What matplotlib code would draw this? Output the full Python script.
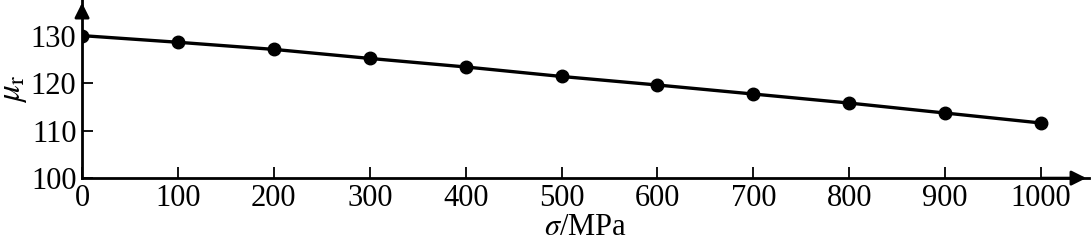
import numpy as np
import matplotlib.pyplot as plt

# stress (MPa) vs relative permeability
sigma = [0, 100, 200, 300, 400, 500, 600, 700, 800, 900, 1000]
mu_r = [130.0, 128.6, 127.1, 125.2, 123.4, 121.4, 119.6, 117.7, 115.8, 113.7, 111.6]
xticks = [0, 100, 200, 300, 400, 500, 600, 700, 800, 900, 1000]
yticks = [100, 110, 120, 130]

plt.rcParams['font.family'] = ['Liberation Serif', 'DejaVu Serif']
plt.rcParams['mathtext.fontset'] = 'stix'

fig = plt.figure(figsize=(10.91, 2.41), dpi=100)
ax = fig.add_axes([0.0752, 0.261, 0.923, 0.739])

ax.plot(sigma, mu_r, color='black', lw=2.4, marker='o', ms=9)

ax.set_xlim(0, 1050)
ax.set_ylim(100, 137.5)
ax.set_xticks(xticks)
ax.set_yticks(yticks)
ax.tick_params(direction='in', length=8, width=1.3, labelsize=22, pad=4)

for s in ['top', 'right']:
    ax.spines[s].set_visible(False)
for s in ['left', 'bottom']:
    ax.spines[s].set_linewidth(2)

# axis arrows
ax.annotate('', xy=(1.0, 0), xytext=(0.95, 0), xycoords='axes fraction',
            arrowprops=dict(arrowstyle='-|>', color='black', lw=2, mutation_scale=22))
ax.annotate('', xy=(0, 1.0), xytext=(0, 0.9), xycoords='axes fraction',
            arrowprops=dict(arrowstyle='-|>', color='black', lw=2, mutation_scale=22))

ax.set_xlabel(r'$\sigma$/MPa', fontsize=22, labelpad=0)
fig.text(0.013, 0.63, r'$\mu_{\mathrm{r}}$', fontsize=24, rotation=90,
         ha='center', va='center')

fig.savefig('out.png', dpi=100)
